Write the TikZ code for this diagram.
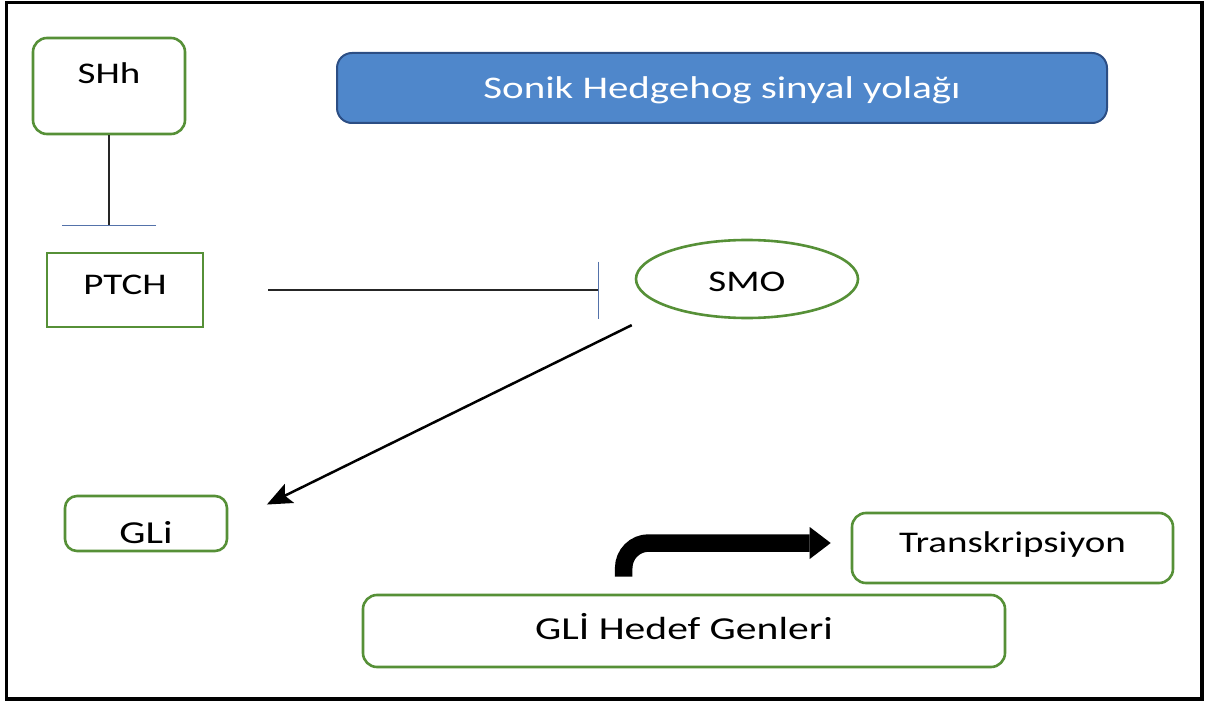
\documentclass[tikz,border=0pt]{standalone}
\usepackage{fontspec}
\setmainfont{Carlito}
\usetikzlibrary{arrows.meta, positioning, shapes.geometric, calc}
\definecolor{leafgreen}{RGB}{86,144,55}
\definecolor{titleblue}{RGB}{79,135,203}
\definecolor{titleedge}{RGB}{44,78,132}
\definecolor{barblue}{RGB}{84,114,170}
\newcommand{\wide}[1]{\scalebox{1.3}[1]{#1}}
\tikzset{
  gbox/.style={draw=leafgreen, line width=2.6pt, rounded corners=14pt, inner sep=0pt,
               font=\fontsize{30}{36}\selectfont, text height=19.3pt, text depth=0pt},
  gsquare/.style={gbox, rounded corners=0pt},
  goval/.style={gbox, ellipse, rounded corners=0pt},
  title/.style={draw=titleedge, line width=2pt, fill=titleblue, rounded corners=15pt,
                text=white, inner sep=0pt, font=\fontsize{31.5}{36}\selectfont,
                text height=20.3pt, text depth=0pt},
  inh/.style={draw=black!85, line width=1.2pt},
  act/.style={-{Stealth[length=25pt, width=21pt, inset=5pt]}, line width=2.5pt, draw=black},
  fat/.style={-{Triangle[length=21pt, width=32pt, line width=0pt]}, line width=17.5pt,
              rounded corners=25pt, draw=black},
  frame/.style={draw=black, line width=3.5pt},
}

\begin{document}
\begin{tikzpicture}[x=1pt, y=-1pt]
\useasboundingbox (0,0) rectangle (1208,706);
\draw[frame] (6.5,2.5) rectangle (1202,699);

\node[title, minimum width=770pt, minimum height=70pt] (title) at (722,88)
  {\wide{Sonik Hedgehog sinyal yolağı}};

\node[gbox, minimum width=152pt, minimum height=96pt, text depth=24pt] (shh) at (109,86)
  {\wide{SHh}};
\node[gsquare, minimum width=156pt, minimum height=74pt, text depth=10pt] (ptch) at (125,290)
  {\wide{PTCH}};
\node[goval, minimum width=222pt, minimum height=78pt, text height=24pt] (smo) at (747,279)
  {\wide{SMO}};
\node[gbox, rounded corners=12pt, minimum width=162pt, minimum height=55pt,
      font=\fontsize{32}{38}\selectfont, text height=40pt] (gli) at (146,523.5)
  {\wide{GLi}};
\node[gbox, minimum width=321pt, minimum height=70pt, text depth=11pt] (trans) at (1012.5,548)
  {\wide{Transkripsiyon}};
\node[gbox, minimum width=642pt, minimum height=72pt,
      font=\fontsize{32}{38}\selectfont, text height=20.6pt, text depth=4pt] (hedef) at (684,631)
  {\wide{GLİ Hedef Genleri}};

% inhibition
\draw[inh, -{Bar[width=94pt, color=barblue]}, shorten >=26pt]
  (shh.south) -- (shh.south |- ptch.north);
\draw[inh, -{Bar[width=57pt, color=barblue]}, shorten <=64pt, shorten >=36pt]
  (ptch.east) -- (ptch.east -| smo.west);

% activation
\draw[act, shorten <=40pt, shorten >=43pt] (smo.south west) -- (gli.east);

\coordinate (prom) at ($(hedef.north west)+(262,-17)$);
\coordinate (tss) at ($(trans.west)+(-20,-5)$);
\draw[fat] (prom) |- (tss);

\end{tikzpicture}
\end{document}
